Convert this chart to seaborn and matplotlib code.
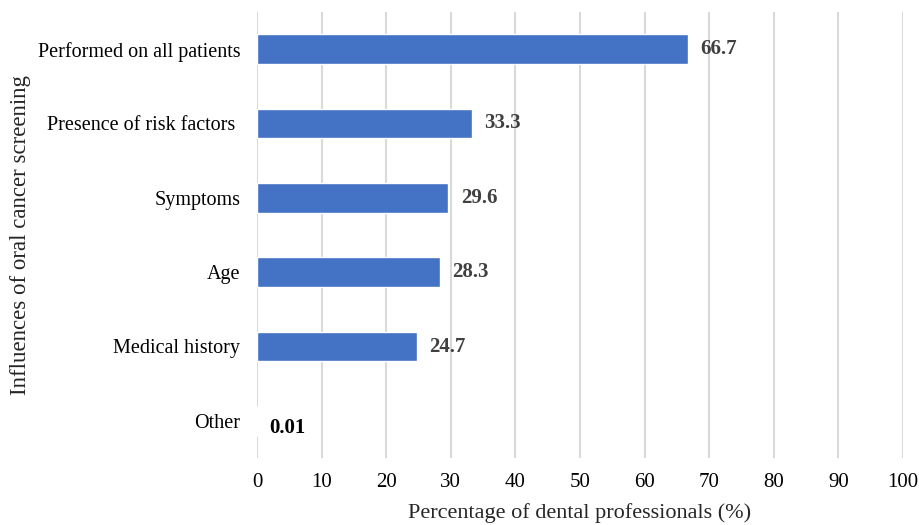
import matplotlib
matplotlib.use("Agg")
import matplotlib.pyplot as plt
import seaborn as sns
import pandas as pd

categories = ["Performed on all patients", "Presence of risk factors ", "Symptoms",
              "Age", "Medical history", "Other"]
values = [66.7, 33.3, 29.6, 28.3, 24.7, 0.01]
value_labels = ["66.7", "33.3", "29.6", "28.3", "24.7", "0.01"]
x_ticks = [0, 10, 20, 30, 40, 50, 60, 70, 80, 90, 100]

sns.set_theme(style="white")
plt.rcParams['font.family'] = ['Liberation Serif', 'DejaVu Serif']

df = pd.DataFrame({"cat": categories, "val": values})

fig = plt.figure(figsize=(9.19, 5.25), dpi=100)
ax = fig.add_axes([257/919, 1-458/525, (903-257)/919, (458-12)/525])

sns.barplot(data=df, y="cat", x="val", orient="h", color="#4472C4",
            saturation=1, width=0.4, ax=ax, zorder=3)

ax.set_xlim(0, 100)
ax.set_ylim(5.5, -0.5)
ax.set_xticks(x_ticks)
ax.set_xticklabels([str(t) for t in x_ticks])
ax.grid(axis="x", color="#D9D9D9", linewidth=1.5, zorder=0)
ax.grid(axis="y", visible=False)
for s in ax.spines.values():
    s.set_visible(False)
ax.tick_params(axis="both", length=0, colors="black")
ax.tick_params(axis="y", pad=12, labelsize=14.5)
ax.tick_params(axis="x", pad=11, labelsize=15)

for i, (v, lab) in enumerate(zip(values, value_labels)):
    col = "black" if lab == "0.01" else "#404040"
    dy = 0.1 if lab == "0.01" else 0.0
    ax.annotate(lab, xy=(v, i + dy), xytext=(9, 0), textcoords="offset points",
                ha="left", va="center", fontsize=15, fontweight="bold", color=col)

ax.set_xlabel("Percentage of dental professionals (%)", fontsize=16, labelpad=8)
ax.set_ylabel("Influences of oral cancer screening", fontsize=16.5, labelpad=5)

fig.savefig("out.png", dpi=100)
